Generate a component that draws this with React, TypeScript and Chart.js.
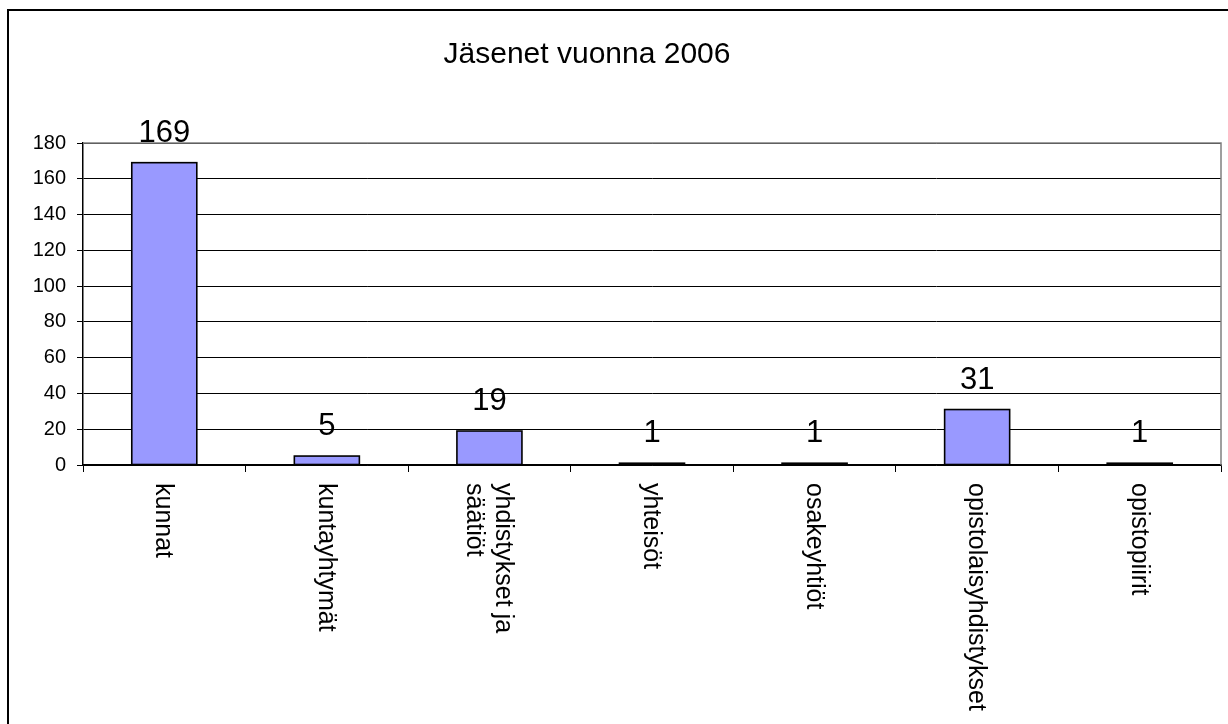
import React, { useEffect, useRef } from "react";
import { Chart, registerables } from "chart.js";

Chart.register(...registerables);

const titleText = "Jäsenet vuonna 2006";
const categories: (string | string[])[] = [
  "kunnat",
  "kuntayhtymät",
  ["yhdistykset ja", "säätiöt"],
  "yhteisöt",
  "osakeyhtiöt",
  "opistolaisyhdistykset",
  "opistopiirit",
];
const values = [169, 5, 19, 1, 1, 31, 1];
const yMin = 0;
const yMax = 180;
const yStep = 20;

const FONT = "'Liberation Sans', Arial, sans-serif";

const customDraw = {
  id: "customDraw",
  afterDatasetsDraw(chart: any) {
    const { ctx, chartArea } = chart;
    const xScale = chart.scales.x;
    const meta = chart.getDatasetMeta(0);
    ctx.save();
    // bar outlines
    ctx.strokeStyle = "#000";
    ctx.lineWidth = 1.6;
    meta.data.forEach((bar: any) => {
      const w = bar.width;
      ctx.strokeRect(bar.x - w / 2, bar.y, w, bar.base - bar.y);
    });

    // plot area border (top + right), gray
    ctx.strokeStyle = "#808080";
    ctx.lineWidth = 1.5;
    ctx.beginPath();
    ctx.moveTo(chartArea.left, chartArea.top);
    ctx.lineTo(chartArea.right, chartArea.top);
    ctx.lineTo(chartArea.right, chartArea.bottom);
    ctx.stroke();

    // data labels
    ctx.fillStyle = "#000";
    ctx.font = `31px ${FONT}`;
    ctx.textAlign = "center";
    ctx.textBaseline = "alphabetic";
    meta.data.forEach((bar: any, i: number) => {
      ctx.fillText(String(values[i]), bar.x, bar.y - 21);
    });

    // rotated category labels (clockwise)
    ctx.font = `25px ${FONT}`;
    ctx.textAlign = "left";
    ctx.textBaseline = "middle";
    const lineH = 29;
    categories.forEach((cat, i) => {
      const lines = Array.isArray(cat) ? cat : [cat];
      const x = xScale.getPixelForValue(i);
      ctx.save();
      ctx.translate(x - 1, chartArea.bottom + 18);
      ctx.rotate(Math.PI / 2);
      lines.forEach((ln, j) => {
        const off = (j - (lines.length - 1) / 2) * lineH;
        ctx.fillText(ln, 0, off);
      });
      ctx.restore();
    });

    // title
    ctx.font = `30px ${FONT}`;
    ctx.textAlign = "center";
    ctx.textBaseline = "alphabetic";
    ctx.fillText(titleText, 587, 63);
    ctx.restore();
  },
};

export default function App() {
  const ref = useRef<HTMLCanvasElement>(null);
  useEffect(() => {
    if (!ref.current) return;
    const chart = new Chart(ref.current, {
      type: "bar",
      data: {
        labels: categories.map((c) => (Array.isArray(c) ? c.join(" ") : c)),
        datasets: [
          {
            data: values,
            backgroundColor: "#9999FF",
            borderWidth: 0,
            barPercentage: 0.4,
            categoryPercentage: 1,
          },
        ],
      },
      options: {
        responsive: false,
        animation: false,
        layout: { padding: { left: 0, top: 143, right: 7, bottom: 0 } },
        plugins: {
          legend: { display: false },
          title: { display: false },
          tooltip: { enabled: false },
        },
        scales: {
          x: {
            offset: true,
            grid: {
              offset: true,
              drawOnChartArea: false,
              drawTicks: true,
              tickLength: 7,
              color: "#000",
              lineWidth: 1,
            },
            border: { display: true, color: "#000", width: 1.5 },
            ticks: { display: false },
            afterFit(scale: any) {
              scale.height = 259;
            },
          },
          y: {
            min: yMin,
            max: yMax,
            ticks: {
              stepSize: yStep,
              color: "#000",
              font: { family: FONT, size: 20 },
              padding: 11,
            },
            grid: {
              color: "#000",
              lineWidth: 1,
              tickLength: 6,
              drawTicks: true,
            },
            border: { display: true, color: "#000", width: 1.5 },
            afterFit(scale: any) {
              scale.width = 83;
            },
          },
        },
      },
      plugins: [customDraw],
    });
    return () => chart.destroy();
  }, []);
  return (
    <div
      style={{
        position: "fixed",
        left: 0,
        top: 0,
        width: 1228,
        height: 724,
        background: "#fff",
      }}
    >
      <div
        style={{
          position: "absolute",
          left: 7,
          top: 9,
          width: 1221,
          height: 715,
          borderLeft: "2px solid #000",
          borderTop: "2px solid #000",
          boxSizing: "border-box",
        }}
      />
      <canvas
        ref={ref}
        width={1228}
        height={724}
        style={{ position: "absolute", left: 0, top: 0, width: 1228, height: 724 }}
      />
    </div>
  );
}
